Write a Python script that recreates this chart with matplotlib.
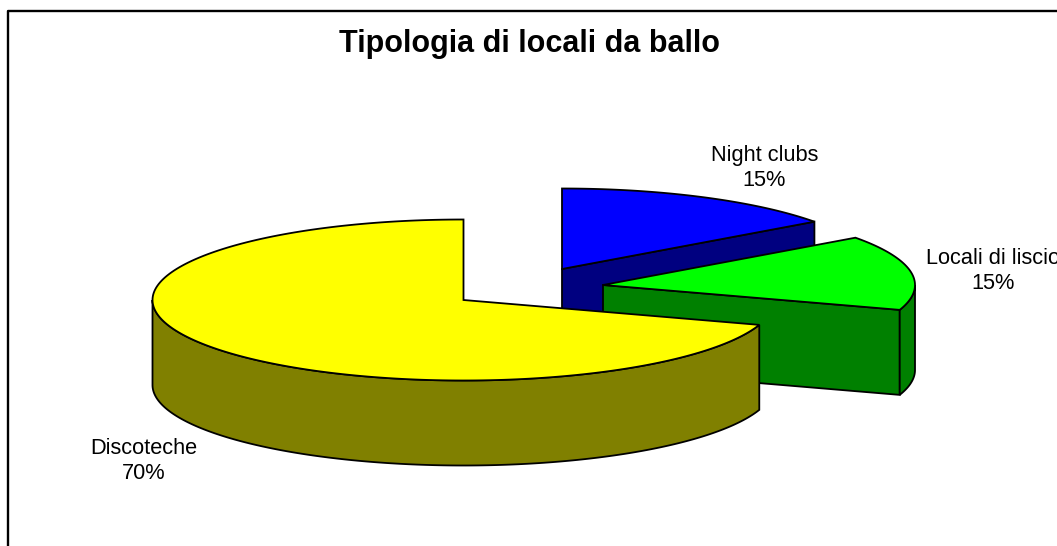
import numpy as np
import matplotlib
matplotlib.use('Agg')
import matplotlib.pyplot as plt
from matplotlib.patches import Polygon

title = 'Tipologia di locali da ballo'
categories = ['Night clubs', 'Locali di liscio', 'Discoteche']
shares = [15, 15, 70]

top_colors = ['#0000ff', '#00ff00', '#ffff00']
side_colors = ['#000080', '#008000', '#808000']

# exploded slice apex in pixels, the pie is drawn in image coordinates
apex = [(562, 269), (603, 285), (463.5, 300)]
radius_x = [312, 312, 311]
label_pos = [(764.5, 168), (993.5, 271), (144, 461)]
ry = 80.5
depth = 85


def arc(center, rx, a0, a1):
    # angles clockwise from the top of the pie, in degrees
    a = np.radians(np.linspace(a0, a1, 200))
    return np.column_stack([center[0] + rx * np.sin(a), center[1] - ry * np.cos(a)])


def add_poly(ax, pts, color):
    ax.add_patch(Polygon(pts, closed=True, facecolor=color, edgecolor='black',
                         linewidth=1.3, joinstyle='miter'))


plt.rcParams['font.family'] = ['Liberation Sans', 'DejaVu Sans']
fig = plt.figure(figsize=(10.57, 5.46), dpi=100)
ax = fig.add_axes([0, 0, 1, 1])
ax.set_xlim(0, 1057)
ax.set_ylim(546, 0)
ax.axis('off')

# chart frame, only top and left are inside the picture
ax.plot([8, 8, 1060], [550, 11, 11], color='black', linewidth=1.7)

drop = np.array([0, depth])
ends = np.cumsum(shares) * 3.6
starts = ends - np.array(shares) * 3.6

for i in range(len(shares)):
    c = np.array(apex[i])
    rx = radius_x[i]
    a0, a1 = starts[i], ends[i]

    # cut face on the clockwise end of the slice
    if a1 < 180:
        end = arc(c, rx, a1, a1)[0]
        add_poly(ax, [c, end, end + drop, c + drop], side_colors[i])

    # outer rim, only the front half of the ellipse can be seen
    r0, r1 = max(a0, 90), min(a1, 270)
    if r1 > r0:
        rim = arc(c, rx, r0, r1)
        add_poly(ax, np.vstack([rim, (rim + drop)[::-1]]), side_colors[i])

    add_poly(ax, np.vstack([c, arc(c, rx, a0, a1)]), top_colors[i])

    ax.text(label_pos[i][0], label_pos[i][1], f'{categories[i]}\n{shares[i]}%',
            ha='center', va='center', fontsize=15.7, linespacing=1.28, color='black')

ax.text(529.5, 44, title, ha='center', va='center', fontsize=22, fontweight='bold', color='black')

fig.savefig('out.png', dpi=100)
